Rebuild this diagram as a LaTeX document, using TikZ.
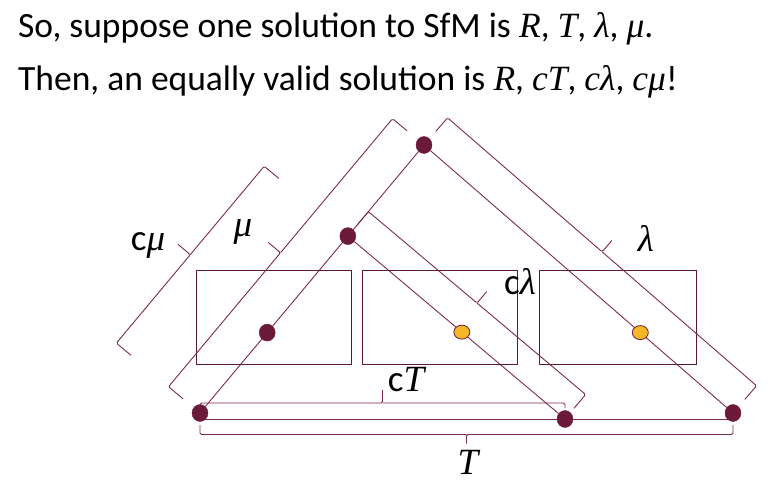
\documentclass[tikz,border=0pt]{standalone}
\usepackage{fontspec}
\setmainfont{Carlito}
\newfontfamily\mathserif{Liberation Serif}
\newcommand{\mv}[1]{{\mathserif\itshape #1}}
\usepackage{xcolor}
\definecolor{cDot}{HTML}{6B1A3A}
\definecolor{cRay}{HTML}{7D2A4E}
\definecolor{cFrame}{HTML}{5C1A36}
\definecolor{cProj}{HTML}{F4B728}
\usepackage{tikz}
\usetikzlibrary{calc,shapes.geometric,backgrounds}
\tikzset{
  pt-dark/.style={ellipse,draw=cDot,fill=cDot,inner sep=0pt,
    minimum width=16pt,minimum height=17pt},
  pt-proj/.style={ellipse,draw=cDot,fill=cProj,line width=0.8pt,inner sep=0pt,
    minimum width=16pt,minimum height=14pt},
  image-plane/.style={draw=cFrame,line width=1pt,minimum height=94pt},
  ray/.style={draw=cRay,line width=0.9pt},
  brace-line/.style={draw=cRay,line width=0.9pt,rounded corners=1.5pt},
  title-text/.style={anchor=base west,inner sep=0pt,font=\fontsize{35.5}{42}\selectfont},
  lbl/.style={inner sep=0pt,font=\fontsize{37}{42}\selectfont},
}
% brace along (#1)->(#2), on its left side:
% hook end offset #3, corner offset #4, tip offset #5
\newcommand{\sfmbrace}[5]{%
  \coordinate (bm) at ($(#1)!0.5!(#2)$);
  \draw[brace-line] ($(#1)!#3!90:(#2)$) -- ($(#1)!#4!90:(#2)$)
    -- ($(bm)!#4!90:(#2)$) -- ($(bm)!#5!90:(#2)$)
    ($(bm)!#4!90:(#2)$) -- ($(#2)!#4!-90:(#1)$) -- ($(#2)!#3!-90:(#1)$);}

\begin{document}
\begin{tikzpicture}[x=1pt,y=-1pt]
  \useasboundingbox (0,0) rectangle (772,490);
  % text
  \node[title-text] (line1) at (18,37) {So, suppose one solution to SfM is \mv{R}, \mv{T}, \mv{λ}, \mv{μ}.};
  \node[title-text] (line2) at (18,90) {Then, an equally valid solution is \mv{R}, \mv{cT}, \mv{cλ}, \mv{cμ}!};
  % image planes
  \node[image-plane,minimum width=155pt] (img1) at (273.5,317) {};
  \node[image-plane,minimum width=155pt] (img2) at (439.5,317) {};
  \node[image-plane,minimum width=157pt] (img3) at (617.5,317) {};
  % camera centres, points, projections
  \node[pt-dark] (P1) at (200,413) {};
  \node[pt-dark] (P2) at (565,419) {};
  \node[pt-dark] (P3) at (733,413) {};
  \node[pt-dark] (A)  at (424,145) {};
  \node[pt-dark] (B)  at ($(P1)!0.66!(A)$) {};
  \node[pt-dark] (x1) at ($(P1)!0.3!(A)$) {};
  \node[pt-proj] (x2) at ($(B)!0.525!(P2)$) {};
  \node[pt-proj] (x3) at ($(A)!0.7!(P3)$) {};
  \coordinate (P2b) at (P1 -| P2);
  % rays
  \begin{scope}[on background layer]
    \draw[ray] (P1) -- (A);
    \draw[ray] (B) -- (P2);
    \draw[ray] (A) -- (P3);
    \draw[ray] (P1 |- P2) -- (P3 |- P2);
  \end{scope}
  % braces
  \sfmbrace{P1}{B}{90pt}{109pt}{125pt}
  \sfmbrace{P1}{A}{22pt}{41pt}{57pt}
  \sfmbrace{A}{P3}{18pt}{36pt}{51pt}
  \sfmbrace{B}{P2}{14pt}{32pt}{47pt}
  \sfmbrace{P1}{P2b}{5pt}{10pt}{23pt}
  \sfmbrace{P3}{P1}{12pt}{21.5pt}{30.5pt}
  % labels
  \node[lbl] (l-cmu)  at (148,245) {c\mv{μ}};
  \node[lbl] (l-mu)   at (243,232) {\mv{μ}};
  \node[lbl] (l-lam)  at (646,238) {\mv{λ}};
  \node[lbl] (l-clam) at (520,282) {c\mv{λ}};
  \node[lbl] (l-cT)   at (406,380) {c\mv{T}};
  \node[lbl] (l-T)    at (468,462) {\mv{T}};
\end{tikzpicture}
\end{document}
